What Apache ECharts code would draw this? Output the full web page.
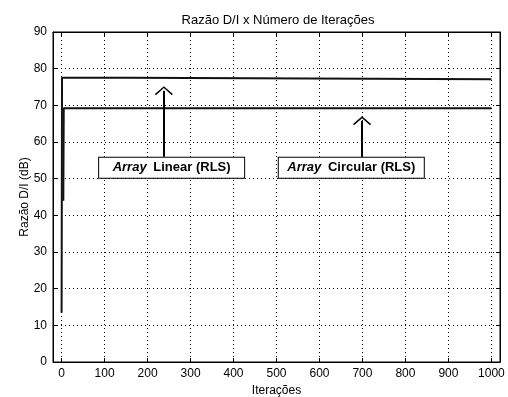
<!DOCTYPE html>
<html>
<head>
<meta charset="utf-8">
<script src="https://cdn.jsdelivr.net/npm/echarts@6/dist/echarts.min.js"></script>
<style>
  html, body { margin: 0; padding: 0; background: #fff; }
  #main { width: 508px; height: 397px; }
</style>
</head>
<body>
<div id="main"></div>
<script>
// ticks
const xTicks = [0, 100, 200, 300, 400, 500, 600, 700, 800, 900, 1000];

// Array Linear (RLS)
const linearIter = [0, 1, 155, 156, 1000];
const linearDI = [13.4, 77.5, 77.5, 77.1, 77.1];

// Array Circular (RLS)
const circularIter = [4, 5, 1000];
const circularDI = [44, 69.2, 69.2];

// annotations: [box x, box y, arrow x, arrow tip y]
const linearNote = [256, 53, 238, 75.2];
const circularNote = [674, 53, 699, 67.0];

const FONT = 'Liberation Sans, Arial, sans-serif';
const ARROW = 'path://M0,0 L9,8 L8,9.2 L0,2 L-8,9.2 L-9,8 Z';

const pairs = (xs, ys) => xs.map((x, i) => [x, ys[i]]);

const box = (note, name) => ({
    coord: [note[0], note[1]],
    symbolSize: 0,
    label: {
        show: true,
        position: 'inside',
        width: 145,
        height: 20,
        lineHeight: 20,
        align: 'center',
        verticalAlign: 'middle',
        backgroundColor: '#fff',
        borderColor: '#000',
        borderWidth: 1,
        padding: 0,
        formatter: '{a|Array}  {b|' + name + ' (RLS)}',
        rich: {
            a: { fontFamily: FONT, fontSize: 13, fontWeight: 'bold', fontStyle: 'italic', color: '#000' },
            b: { fontFamily: FONT, fontSize: 13, fontWeight: 'bold', color: '#000' }
        }
    }
});

const arrow = (note) => [
    { coord: [note[2], note[1] + 3] },
    { coord: [note[2], note[3] - 1.2] }
];

const tickLabel = { customValues: xTicks, fontFamily: FONT, fontSize: 12, color: '#000', margin: 6, formatter: (v) => String(v) };

const config = {
    animation: false,
    backgroundColor: '#fff',
    title: {
        text: 'Razão D/I x Número de Iterações',
        left: 273,
        top: 9,
        textAlign: 'center',
        textStyle: { fontFamily: FONT, fontSize: 13, fontWeight: 'normal', color: '#000' }
    },
    grid: {
        left: 53, right: 8, top: 32, bottom: 35,
        outerBoundsMode: 'none',
        show: true, borderColor: '#000', borderWidth: 1, backgroundColor: '#fff'
    },
    xAxis: [{
        type: 'value', min: -20, max: 1020, position: 'bottom',
        name: 'Iterações', nameLocation: 'middle', nameGap: 21,
        nameTextStyle: { fontFamily: FONT, fontSize: 12, color: '#000' },
        axisLine: { show: true, onZero: false, lineStyle: { color: '#000' } },
        axisTick: { inside: true, length: 4, customValues: xTicks, lineStyle: { color: '#000' } },
        axisLabel: tickLabel,
        splitLine: { show: true, lineStyle: { type: [1, 3], color: '#000' } }
    }, {
        type: 'value', min: -20, max: 1020, position: 'top',
        axisLine: { show: true, onZero: false, lineStyle: { color: '#000' } },
        axisTick: { inside: true, length: 4, customValues: xTicks, lineStyle: { color: '#000' } },
        axisLabel: { show: false },
        splitLine: { show: false }
    }],
    yAxis: [{
        type: 'value', min: 0, max: 90, interval: 10, position: 'left',
        name: 'Razão D/I (dB)', nameLocation: 'middle', nameGap: 22, nameMoveOverlap: false,
        nameTextStyle: { fontFamily: FONT, fontSize: 12, color: '#000' },
        axisLine: { show: true, onZero: false, lineStyle: { color: '#000' } },
        axisTick: { inside: true, length: 4, lineStyle: { color: '#000' } },
        axisLabel: { fontFamily: FONT, fontSize: 12, color: '#000', margin: 6 },
        splitLine: { show: true, lineStyle: { type: [1, 3], color: '#000' } }
    }, {
        type: 'value', min: 0, max: 90, interval: 10, position: 'right',
        axisLine: { show: true, onZero: false, lineStyle: { color: '#000' } },
        axisTick: { inside: true, length: 4, lineStyle: { color: '#000' } },
        axisLabel: { show: false },
        splitLine: { show: false }
    }],
    series: [{
        name: 'Array Linear (RLS)',
        type: 'line',
        data: pairs(linearIter, linearDI),
        showSymbol: false,
        lineStyle: { color: '#111', width: 2 },
        markPoint: { silent: true, data: [box(linearNote, 'Linear')] },
        markLine: {
            silent: true,
            symbol: ['none', ARROW],
            symbolSize: [18, 9],
            label: { show: false },
            lineStyle: { color: '#000', width: 2, type: 'solid' },
            data: [arrow(linearNote)]
        }
    }, {
        name: 'Array Circular (RLS)',
        type: 'line',
        data: pairs(circularIter, circularDI),
        showSymbol: false,
        lineStyle: { color: '#111', width: 2 },
        markPoint: { silent: true, data: [box(circularNote, 'Circular')] },
        markLine: {
            silent: true,
            symbol: ['none', ARROW],
            symbolSize: [18, 9],
            label: { show: false },
            lineStyle: { color: '#000', width: 2, type: 'solid' },
            data: [arrow(circularNote)]
        }
    }]
};

const chart = echarts.init(document.getElementById('main'), null, { renderer: 'canvas' });
chart.setOption(config);
</script>
</body>
</html>
